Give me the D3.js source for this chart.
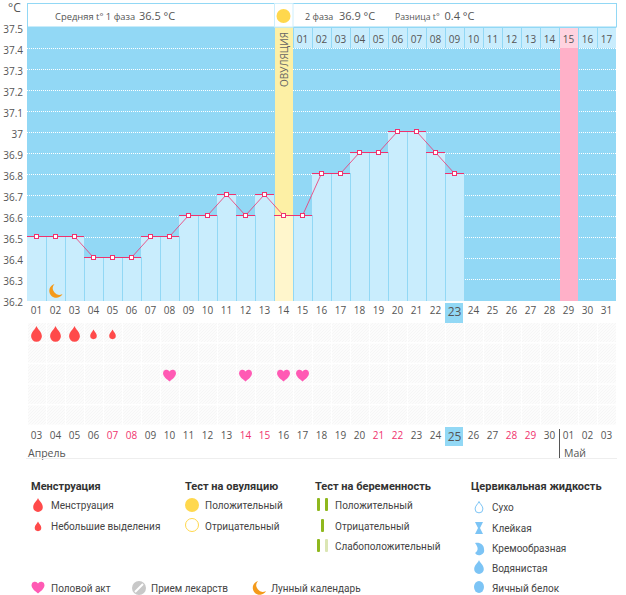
<!DOCTYPE html>
<html>
<head>
<meta charset="utf-8">
<script src="https://d3js.org/d3.v7.min.js"></script>
<style>
  html, body { margin: 0; padding: 0; background: #fff; }
  svg { display: block; }
  text { font-family: "Open Sans", "Noto Sans", sans-serif; fill: #555; }
  .axis text { font-size: 10px; }
  .axis path, .axis line { display: none; }
  .legend-title { font-family: Roboto, sans-serif; font-size: 11px; font-weight: 700; fill: #333; }
  .legend-item { font-family: Roboto, sans-serif; font-size: 10px; fill: #444; }
</style>
</head>
<body>
<div id="chart"></div>
<script>
// temperature by cycle day (1..23)
const temps = [36.5, 36.5, 36.5, 36.4, 36.4, 36.4, 36.5, 36.5, 36.6, 36.6, 36.7, 36.6, 36.7, 36.6, 36.6, 36.8, 36.8, 36.9, 36.9, 37.0, 37.0, 36.9, 36.8];
const cycleDays = d3.range(1, 32);
const yTicks = [37.5, 37.4, 37.3, 37.2, 37.1, 37, 36.9, 36.8, 36.7, 36.6, 36.5, 36.4, 36.3, 36.2];
const phase2Days = ['01','02','03','04','05','06','07','08','09','10','11','12','13','14','15','16','17'];
const dateLabels = ['03','04','05','06','07','08','09','10','11','12','13','14','15','16','17','18','19','20','21','22','23','24','25','26','27','28','29','30','01','02','03'];
const weekendIdx = [4, 5, 11, 12, 18, 19, 25, 26];
const heavyDays = [1, 2, 3];
const lightDays = [4, 5];
const sexDays = [8, 12, 14, 15];
const moonDay = 2;
const ovulationDay = 14;
const peakDay = 29;
const todayDay = 23;
const rows = [0, 1, 2, 3, 4];

const width = 626, height = 595;
const sky = '#92d8f5', bar = '#c9edfd', pinkLine = '#f0326e';
const plotBottom = 301;

const svg = d3.select('#chart').append('svg')
    .attr('width', width)
    .attr('height', height);

const defs = svg.append('defs');
const hatch = defs.append('pattern').attr('id', 'hatch')
    .attr('width', 3).attr('height', 3).attr('patternUnits', 'userSpaceOnUse');
hatch.append('rect').attr('width', 3).attr('height', 3).attr('fill', '#fcfcfc');
hatch.append('path').attr('d', 'M0 3L3 0').attr('stroke', '#f6f6f6').attr('stroke-width', 1);

const x = d3.scaleBand().domain(cycleDays).range([27, 616]);
const y = d3.scaleLinear().domain([36.2, 37.5]).range([299, 26]);
const cx = d => x(d) + x.bandwidth() / 2;

// icons
const dropPath = s => `M0 ${-10*s}C${1.5*s} ${-6*s} ${6*s} ${-3.5*s} ${6*s} ${1.5*s}A${6*s} ${6*s} 0 0 1 ${-6*s} ${1.5*s}C${-6*s} ${-3.5*s} ${-1.5*s} ${-6*s} 0 ${-10*s}Z`;
const heartPath = 'M0 6.5C-3 4 -6.5 1.5 -6.5 -2A3.5 3.5 0 0 1 0 -3.6A3.5 3.5 0 0 1 6.5 -2C6.5 1.5 3 4 0 6.5Z';
const moonPath = 'M-1 -7A7 7 0 1 0 7 3A6.5 6.5 0 0 1 -1 -7Z';

// plot background
svg.append('rect').attr('x', 27).attr('y', 27).attr('width', 589).attr('height', plotBottom - 27).attr('fill', sky);

// dotted grid
svg.append('g').selectAll('line')
    .data(yTicks.filter(d => d < 37.5 && d > 36.2))
  .enter().append('line')
    .attr('x1', 27).attr('x2', 616)
    .attr('y1', d => y(d) + 1.5).attr('y2', d => y(d) + 1.5)
    .attr('stroke', '#fff')
    .attr('stroke-dasharray', '1 1');

// peak day column
svg.append('rect')
    .attr('x', x(peakDay) + 1).attr('y', 48)
    .attr('width', x.bandwidth() - 1).attr('height', plotBottom - 48)
    .attr('fill', '#ffb0c8');

// temperature bars
svg.append('g').selectAll('rect')
    .data(temps)
  .enter().append('rect')
    .attr('x', (d, i) => x(i + 1))
    .attr('y', d => y(d))
    .attr('width', x.bandwidth())
    .attr('height', d => plotBottom - y(d))
    .attr('fill', (d, i) => i + 1 === ovulationDay ? '#fff6cc' : bar);

// ovulation column above the line
svg.append('rect')
    .attr('x', x(ovulationDay) + 1).attr('y', 27)
    .attr('width', x.bandwidth() - 1).attr('height', y(temps[ovulationDay - 1]) - 27)
    .attr('fill', '#fdf0a5');
svg.append('text')
    .attr('transform', `translate(${cx(ovulationDay) + 4},87) rotate(-90)`)
    .attr('font-size', 10)
    .style('fill', '#666')
    .text('ОВУЛЯЦИЯ');

// bar separators
svg.append('g').selectAll('line')
    .data(temps.slice(1))
  .enter().append('line')
    .attr('x1', (d, i) => x(i + 2) + 0.5).attr('x2', (d, i) => x(i + 2) + 0.5)
    .attr('y1', (d, i) => y(Math.min(d, temps[i]))).attr('y2', plotBottom)
    .attr('stroke', sky);

// header
svg.append('rect').attr('x', 27.5).attr('y', 3.5).attr('width', 589).attr('height', 23.5)
    .attr('fill', '#fff').attr('stroke', sky);
svg.append('rect').attr('x', x(ovulationDay) + 0.5).attr('y', 3.5).attr('width', x.bandwidth() - 0.5).attr('height', 23.5)
    .attr('fill', '#fff').attr('stroke', '#cdeefc');
svg.append('circle').attr('cx', cx(ovulationDay)).attr('cy', 16).attr('r', 7).attr('fill', '#ffd84d');

const headText = (tx, size, s) => svg.append('text')
    .attr('x', tx).attr('y', 19.5).attr('font-size', size).text(s);
headText(55, 9.4, 'Средняя t° 1 фаза');
headText(139, 11, '36.5 °C');
headText(305, 9, '2 фаза');
headText(339, 11, '36.9 °C');
headText(395, 8.7, 'Разница t°');
headText(444.5, 11, '0.4 °C');

// second phase day cells
const cells = svg.append('g').selectAll('g')
    .data(phase2Days)
  .enter().append('g');
cells.append('rect')
    .attr('x', (d, i) => x(i + 15) + 1)
    .attr('y', 28)
    .attr('width', x.bandwidth() - 1)
    .attr('height', 20)
    .attr('fill', (d, i) => i + 15 === peakDay ? '#ffd3e0' : '#c9edfd');
cells.append('text')
    .attr('x', (d, i) => cx(i + 15))
    .attr('y', 43)
    .attr('text-anchor', 'middle')
    .attr('font-size', 10)
    .text(d => d);

// temperature line
const tempLine = d3.line().x((d, i) => cx(i + 1)).y(d => y(d) + 0.5);
svg.append('path').attr('d', tempLine(temps)).attr('fill', 'none').attr('stroke', pinkLine).attr('stroke-width', 0.8);
svg.append('g').selectAll('line')
    .data(temps)
  .enter().append('line')
    .attr('x1', (d, i) => x(i + 1)).attr('x2', (d, i) => x(i + 1) + x.bandwidth())
    .attr('y1', d => y(d) + 0.5).attr('y2', d => y(d) + 0.5)
    .attr('stroke', pinkLine);
svg.append('g').selectAll('rect')
    .data(temps)
  .enter().append('rect')
    .attr('x', (d, i) => Math.floor(cx(i + 1)) - 1.5)
    .attr('y', d => y(d) - 1.5)
    .attr('width', 4).attr('height', 4)
    .attr('fill', '#fff').attr('stroke', pinkLine);

svg.append('path').attr('d', moonPath)
    .attr('transform', `translate(${cx(moonDay)},291)`)
    .attr('fill', '#f49a1a');

// axes
const yAxis = svg.append('g').attr('class', 'axis')
    .attr('transform', 'translate(23,0)')
    .call(d3.axisLeft(y).tickValues(yTicks).tickSize(0).tickPadding(0).tickFormat(d => d === 37 ? '37' : d3.format('.1f')(d)));
yAxis.selectAll('text').attr('dy', '0.32em').attr('y', 3);
svg.append('text').attr('x', 8).attr('y', 12).attr('font-size', 12).text('°C');

// today markers
svg.append('rect').attr('x', x(todayDay)).attr('y', 303).attr('width', x.bandwidth() - 1).attr('height', 20).attr('fill', sky);
svg.append('rect').attr('x', x(todayDay)).attr('y', 427).attr('width', x.bandwidth() - 1).attr('height', 19).attr('fill', sky);

const xAxis = svg.append('g').attr('class', 'axis')
    .attr('transform', 'translate(0,306)')
    .call(d3.axisBottom(x).tickSize(0).tickPadding(1).tickFormat(d => d3.format('02')(d)));
xAxis.selectAll('text').style('font-size', d => d === todayDay ? '12px' : '10px');

// lower grid
const rowY = d3.scaleBand().domain(rows).range([323, 426]);
svg.append('g').selectAll('g')
    .data(rows)
  .enter().append('g')
    .selectAll('rect')
    .data(r => cycleDays.map(d => [r, d]))
  .enter().append('rect')
    .attr('x', d => x(d[1]) + 1)
    .attr('y', d => rowY(d[0]))
    .attr('width', x.bandwidth() - 1)
    .attr('height', rowY.bandwidth() - 1.5)
    .attr('fill', 'url(#hatch)');

svg.append('g').selectAll('path')
    .data(heavyDays)
  .enter().append('path')
    .attr('d', dropPath(0.9))
    .attr('transform', d => `translate(${cx(d)},335)`)
    .attr('fill', '#ff4a4a');
svg.append('g').selectAll('path')
    .data(lightDays)
  .enter().append('path')
    .attr('d', dropPath(0.55))
    .attr('transform', d => `translate(${cx(d)},335)`)
    .attr('fill', '#ff4a4a');
svg.append('g').selectAll('path')
    .data(sexDays)
  .enter().append('path')
    .attr('d', heartPath)
    .attr('transform', d => `translate(${cx(d)},375)`)
    .attr('fill', '#ff5ab4');

// calendar date row
const dateAxis = svg.append('g').attr('class', 'axis')
    .attr('transform', 'translate(0,432)')
    .call(d3.axisBottom(x).tickSize(0).tickPadding(0).tickFormat((d, i) => dateLabels[i]));
dateAxis.selectAll('text')
    .style('fill', (d, i) => weekendIdx.includes(i) ? '#f0326e' : '#555')
    .style('font-size', d => d === todayDay ? '12px' : '10px');

svg.append('text').attr('x', 28).attr('y', 457).attr('font-size', 10.5).text('Апрель');
svg.append('text').attr('x', 564).attr('y', 457).attr('font-size', 10.5).text('Май');
svg.append('line').attr('x1', 559.5).attr('x2', 559.5).attr('y1', 429).attr('y2', 458).attr('stroke', '#555');
svg.append('line').attr('x1', 26).attr('x2', 617).attr('y1', 458.5).attr('y2', 458.5).attr('stroke', '#eee');

// legend
const legendTitles = [[31, 'Менструация'], [185, 'Тест на овуляцию'], [315, 'Тест на беременность'], [471, 'Цервикальная жидкость']];
const legendItems = [
  [51, 505, 'Менструация'], [51, 526, 'Небольшие выделения'],
  [205, 505, 'Положительный'], [205, 526, 'Отрицательный'],
  [335, 505, 'Положительный'], [335, 526, 'Отрицательный'], [335, 546, 'Слабоположительный'],
  [492, 507, 'Сухо'], [492, 528, 'Клейкая'], [492, 548, 'Кремообразная'], [492, 568, 'Водянистая'], [492, 588, 'Яичный белок'],
  [51, 588, 'Половой акт'], [151, 588, 'Прием лекарств'], [271, 588, 'Лунный календарь']
];
svg.append('g').selectAll('text')
    .data(legendTitles)
  .enter().append('text')
    .attr('class', 'legend-title')
    .attr('x', d => d[0]).attr('y', 490)
    .text(d => d[1]);
svg.append('g').selectAll('text')
    .data(legendItems)
  .enter().append('text')
    .attr('class', 'legend-item')
    .attr('x', d => d[0]).attr('y', d => d[1] + 4)
    .text(d => d[2]);

const lg = svg.append('g');
lg.append('path').attr('d', dropPath(0.8)).attr('transform', 'translate(38,506)').attr('fill', '#ff4a4a');
lg.append('path').attr('d', dropPath(0.55)).attr('transform', 'translate(38,527)').attr('fill', '#ff4a4a');
lg.append('circle').attr('cx', 192).attr('cy', 505).attr('r', 7).attr('fill', '#ffd84d');
lg.append('circle').attr('cx', 192).attr('cy', 525).attr('r', 6.5).attr('fill', '#fff').attr('stroke', '#ffd84d');

const strip = (sx, sy, h, c) => lg.append('rect').attr('x', sx).attr('y', sy).attr('width', 3).attr('height', h).attr('rx', 1).attr('fill', c);
strip(317, 498, 13, '#8fb81e'); strip(325, 498, 13, '#8fb81e');
strip(321, 519, 13, '#8fb81e');
strip(317, 539, 13, '#8fb81e'); strip(325, 539, 13, '#dbe6b4');

const fluid = '#7cc4f5';
lg.append('path').attr('d', dropPath(0.65)).attr('transform', 'translate(479,508)').attr('fill', '#fff').attr('stroke', fluid);
lg.append('path').attr('d', 'M-4 -6H4L1 0L4 6H-4L-1 0Z').attr('transform', 'translate(479,528)').attr('fill', fluid);
lg.append('path').attr('d', 'M-4 -5C1 -6 5 -3 5 1A5 5 0 0 1 -4 5C-1 3 0 0 -4 -5Z').attr('transform', 'translate(479,548)').attr('fill', fluid);
lg.append('path').attr('d', dropPath(0.8)).attr('transform', 'translate(479,568)').attr('fill', fluid);
lg.append('ellipse').attr('cx', 479).attr('cy', 587).attr('rx', 5).attr('ry', 6).attr('fill', fluid);

lg.append('path').attr('d', heartPath).attr('transform', 'translate(38,587)').attr('fill', '#ff5ab4');
lg.append('circle').attr('cx', 139).attr('cy', 588).attr('r', 7).attr('fill', '#c8c8c8');
lg.append('line').attr('x1', 135).attr('x2', 143).attr('y1', 592).attr('y2', 584).attr('stroke', '#fff').attr('stroke-width', 2);
lg.append('path').attr('d', moonPath).attr('transform', 'translate(259,588)').attr('fill', '#f49a1a');
</script>
</body>
</html>
